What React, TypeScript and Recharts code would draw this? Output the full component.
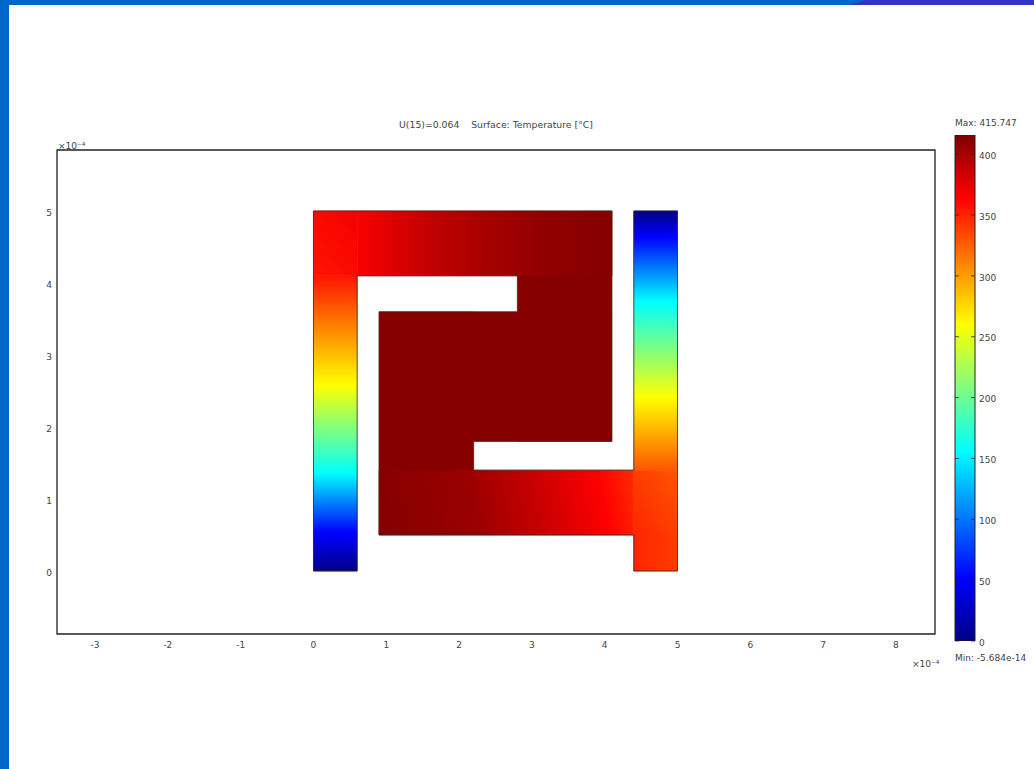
import React from 'react';
import {
    Bar,
    BarChart,
    ComposedChart,
    ReferenceArea,
    ReferenceLine,
    Scatter,
    XAxis,
    YAxis
} from 'recharts';

// all lengths are in units of 1e-4, temperatures in degC
const xTicks = [-3, -2, -1, 0, 1, 2, 3, 4, 5, 6, 7, 8];
const yTicks = [0, 1, 2, 3, 4, 5];
const colorTicks = [0, 50, 100, 150, 200, 250, 300, 350, 400];

const xDomain = [-3.523, 8.537];
const yDomain = [-0.875, 5.847];
const maxTemp = 415.747;

// jet colormap knots, as temperature and colour
const jetTemps = [0, 52, 156, 260, 364, 415.747];
const jetColors = ['#000085', '#0000ff', '#00ffff', '#ffff00', '#ff0000', '#800000'];

// temperature read along each stretch of the conductor: [fraction along gradient, T]
const leftArm = [[0, 356], [0.37, 260], [0.668, 156], [0.87, 52], [1, 0]];
const leftCorner = [[0, 356], [1, 368]];
const topBand = [[0, 366], [0.3, 390], [0.7, 408], [1, 414]];
const bottomBand = [[0, 413], [0.34, 405], [0.6, 386], [0.857, 364], [1, 346]];
const rightArm = [[0, 0], [0.1, 52], [0.35, 156], [0.72, 260], [1, 329]];
const rightCorner = [[0, 329], [1, 349]];
const foot = [[0, 349], [1, 340]];

const gradients = [
    { id: 'leftArm', stops: leftArm, dir: [0, 0, 0, 1] },
    { id: 'leftCorner', stops: leftCorner, dir: [0, 1, 1, 0] },
    { id: 'topBand', stops: topBand, dir: [0, 0, 1, 0] },
    { id: 'bottomBand', stops: bottomBand, dir: [0, 0.05, 1, 0] },
    { id: 'rightArm', stops: rightArm, dir: [0, 0, 0, 1] },
    { id: 'rightCorner', stops: rightCorner, dir: [1, 0, 0, 1] },
    { id: 'foot', stops: foot, dir: [0, 0, 1, 0] },
];

// the hot core, overlapping so no seams show
const corePatches = [
    { x1: 2.8, x2: 4.1, y1: 1.8, y2: 5 },
    { x1: 0.9, x2: 4.1, y1: 1.8, y2: 3.6 },
    { x1: 0.9, x2: 2.2, y1: 0.5, y2: 3.6 },
];

// graded patches of the surface plot
const gradedPatches = [
    { x1: 0, x2: 0.6, y1: 0, y2: 4.1, fill: 'url(#leftArm)' },
    { x1: 0, x2: 0.6, y1: 4.1, y2: 5, fill: 'url(#leftCorner)' },
    { x1: 0.6, x2: 4.1, y1: 4.1, y2: 5, fill: 'url(#topBand)' },
    { x1: 0.9, x2: 4.4, y1: 0.5, y2: 1.4, fill: 'url(#bottomBand)' },
    { x1: 4.4, x2: 5, y1: 1.4, y2: 5, fill: 'url(#rightArm)' },
    { x1: 4.4, x2: 5, y1: 0.5, y2: 1.4, fill: 'url(#rightCorner)' },
    { x1: 4.4, x2: 5, y1: 0, y2: 0.5, fill: 'url(#foot)' },
];

// boundary of the conductor
const outline = [
    { x: 0, y: 5 }, { x: 4.1, y: 5 }, { x: 4.1, y: 1.8 }, { x: 2.2, y: 1.8 }, { x: 2.2, y: 1.4 },
    { x: 4.4, y: 1.4 }, { x: 4.4, y: 5 }, { x: 5, y: 5 }, { x: 5, y: 0 }, { x: 4.4, y: 0 },
    { x: 4.4, y: 0.5 }, { x: 0.9, y: 0.5 }, { x: 0.9, y: 3.6 }, { x: 2.8, y: 3.6 }, { x: 2.8, y: 4.1 },
    { x: 0.6, y: 4.1 }, { x: 0.6, y: 0 }, { x: 0, y: 0 }, { x: 0, y: 5 },
];

const colorBar = [{ name: 'Temperature', value: maxTemp }];

const font = '"DejaVu Sans", sans-serif';
const tickStyle = { fill: '#444', fontSize: 9, fontFamily: font };

const hex = (n: number) => Math.round(n).toString(16).padStart(2, '0');

const tempColor = (t: number) => {
    let i = 0;
    while (i < jetTemps.length - 2 && t > jetTemps[i + 1]) i++;
    const f = (t - jetTemps[i]) / (jetTemps[i + 1] - jetTemps[i]);
    const a = jetColors[i];
    const b = jetColors[i + 1];
    const ch = (p: number) => {
        const ca = parseInt(a.slice(p, p + 2), 16);
        const cb = parseInt(b.slice(p, p + 2), 16);
        return hex(ca + (cb - ca) * f);
    };
    return `#${ch(1)}${ch(3)}${ch(5)}`;
};

const Label = ({ x, y, children, anchor = 'start', size = 9 }: any) => (
    <text x={x} y={y} textAnchor={anchor} fontSize={size} fontFamily={font} fill="#444">
        {children}
    </text>
);

const App: React.FC = () => (
    <div style={{ position: 'absolute', left: 0, top: 0, width: 1034, height: 769, background: '#fff', overflow: 'hidden' }}>
        <div style={{ position: 'absolute', left: 0, top: 0, width: 9, height: 769, background: '#0066cc' }} />
        <div style={{ position: 'absolute', left: 0, top: 0, width: 1034, height: 5, background: '#0066cc' }} />
        <div style={{ position: 'absolute', left: 850, top: 0, width: 184, height: 5, background: '#3333cc', clipPath: 'polygon(15px 0, 184px 0, 184px 5px, 0 5px)' }} />

        <div style={{ position: 'absolute', left: 0, top: 0 }}>
            <ComposedChart width={1034} height={769} margin={{ top: 150, right: 99, bottom: 0, left: 0 }}>
                <defs>
                    {gradients.map((g) => (
                        <linearGradient key={g.id} id={g.id} x1={g.dir[0]} y1={g.dir[1]} x2={g.dir[2]} y2={g.dir[3]}>
                            {g.stops.map(([offset, t]) => (
                                <stop key={offset} offset={offset} stopColor={tempColor(t)} />
                            ))}
                        </linearGradient>
                    ))}
                </defs>
                <XAxis
                    type="number"
                    dataKey="x"
                    domain={xDomain}
                    ticks={xTicks}
                    allowDataOverflow
                    height={135}
                    tickLine={false}
                    axisLine={false}
                    tickSize={0}
                    tickMargin={8}
                    tick={tickStyle}
                />
                <YAxis
                    type="number"
                    dataKey="y"
                    domain={yDomain}
                    ticks={yTicks}
                    allowDataOverflow
                    width={57}
                    tickLine={false}
                    axisLine={false}
                    tickSize={0}
                    tickMargin={5}
                    tick={{ ...tickStyle, dy: 2 }}
                />
                <ReferenceArea
                    x1={xDomain[0]}
                    x2={xDomain[1]}
                    y1={yDomain[0]}
                    y2={yDomain[1]}
                    fill="none"
                    stroke="#222"
                    strokeWidth={1.3}
                />
                {corePatches.map((p, i) => (
                    <ReferenceArea
                        key={`core-${i}`}
                        x1={p.x1}
                        x2={p.x2}
                        y1={p.y1}
                        y2={p.y2}
                        fill="#860000"
                        fillOpacity={1}
                        stroke="none"
                    />
                ))}
                {gradedPatches.map((p, i) => (
                    <ReferenceArea
                        key={`graded-${i}`}
                        x1={p.x1}
                        x2={p.x2}
                        y1={p.y1}
                        y2={p.y2}
                        fill={p.fill}
                        fillOpacity={1}
                        stroke={p.fill}
                        strokeWidth={0.6}
                    />
                ))}
                <Scatter
                    data={outline}
                    line={{ stroke: '#3a2a20', strokeWidth: 0.8 }}
                    shape={() => <g />}
                    isAnimationActive={false}
                />
                <Label x={496} y={128} anchor="middle" size={9.3}>U(15)=0.064{'\u00a0\u00a0\u00a0\u00a0'}Surface: Temperature [°C]</Label>
                <Label x={58} y={149}>×10⁻⁴</Label>
                <Label x={912} y={667}>×10⁻⁴</Label>
            </ComposedChart>
        </div>

        <div style={{ position: 'absolute', left: 0, top: 0 }}>
            <BarChart
                width={1034}
                height={769}
                data={colorBar}
                barCategoryGap={0}
                margin={{ top: 135, right: 0, bottom: 128, left: 955 }}
            >
                <defs>
                    <linearGradient id="jetBar" x1={0} y1={1} x2={0} y2={0}>
                        {jetTemps.map((t, i) => (
                            <stop key={t} offset={t / maxTemp} stopColor={jetColors[i]} />
                        ))}
                    </linearGradient>
                </defs>
                <XAxis dataKey="name" hide />
                <YAxis
                    orientation="right"
                    type="number"
                    domain={[0, maxTemp]}
                    ticks={colorTicks}
                    allowDataOverflow
                    width={59}
                    axisLine={false}
                    tickLine={false}
                    tickSize={0}
                    tickMargin={4}
                    tick={{ ...tickStyle, dy: 1.5 }}
                />
                <Bar dataKey="value" fill="url(#jetBar)" stroke="#222" strokeWidth={1} isAnimationActive={false} />
                {colorTicks.map((t) => (
                    <ReferenceLine key={t} y={t} stroke="#222" strokeWidth={0.8} strokeDasharray="4 12 4" />
                ))}
                <Label x={955} y={126}>Max: 415.747</Label>
                <Label x={955} y={661}>Min: -5.684e-14</Label>
            </BarChart>
        </div>
    </div>
);

export default App;
